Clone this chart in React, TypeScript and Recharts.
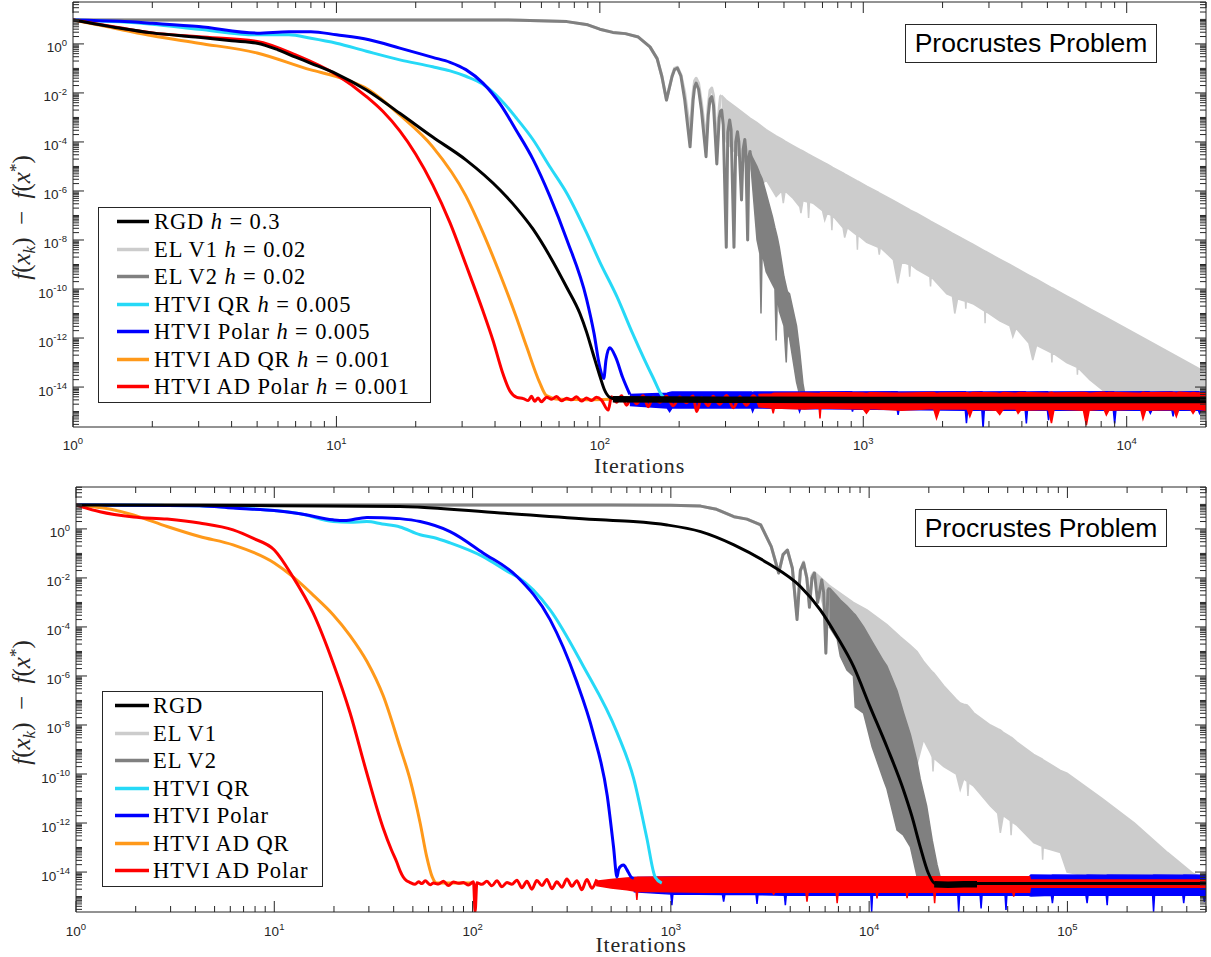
import React from 'react';
import { ComposedChart, Line, Area, XAxis, YAxis, Legend, ReferenceLine } from 'recharts';

const AXIS_COLOR = '#262626';
const SANS = '"Liberation Sans", Arial, Helvetica, sans-serif';
const SERIF = '"Liberation Serif", "Times New Roman", serif';

// ---------- series identity ----------
const SERIES_NAMES = ['RGD', 'EL V1', 'EL V2', 'HTVI QR', 'HTVI Polar', 'HTVI AD QR', 'HTVI AD Polar'];
const SERIES_COLORS = ['#000000', '#cccccc', '#808080', '#26d9f7', '#0000ff', '#ff991a', '#ff0000'];
const STEP_SIZES = ['0.3', '0.02', '0.02', '0.005', '0.005', '0.001', '0.001'];
const TITLE = 'Procrustes Problem';
const X_LABEL = 'Iterations';

// ---------- axis ranges ----------
const Y_LOG_RANGE = [-15.63, 1.71];
const TOP_X_RANGE = [1, 20000];
const BOT_X_RANGE = [1, 500000];
const Y_LABELED_EXPONENTS = [-14, -12, -10, -8, -6, -4, -2, 0];

// =====================================================================
// TOP PANEL  (x = iteration, values given as log10(f(x_k) - f(x*)))
// =====================================================================
const topRgdX = [1, 1.5, 2, 3, 4, 5, 6, 7, 8, 10, 13, 17.4, 23.2, 31, 41.8, 48.3, 55.7, 64.5, 75, 84, 89, 94, 100, 104, 109, 115];
const topRgdLog = [0.98, 0.65, 0.45, 0.27, 0.13, 0.03, -0.24, -0.54, -0.79, -1.22, -1.88, -2.83, -3.8, -4.73, -5.96, -6.7, -7.55, -8.65, -9.95, -11.0, -11.75, -12.6, -13.55, -14.1, -14.42, -14.5];
const topRgdFloorX = [112, 300, 1000, 20000];
const topRgdFloorLog = [-14.5, -14.52, -14.53, -14.53];

const topElV2X = [1, 20, 50, 75, 90, 100, 112, 125, 140, 155, 165, 172, 179, 188, 192, 197, 203, 210, 220, 226, 229, 232, 237, 243, 253, 258, 262, 266, 270, 278, 284, 287, 290, 294, 302, 306, 311, 315, 323, 328, 333, 337, 345, 350, 355, 358, 364, 368, 372];
const topElV2Log = [0.98, 0.98, 0.97, 0.91, 0.78, 0.6, 0.47, 0.42, 0.28, -0.12, -0.6, -1.33, -2.29, -1.33, -1.05, -0.99, -1.3, -2.29, -4.2, -2.29, -1.75, -1.6, -1.85, -2.7, -4.6, -2.9, -2.25, -2.15, -2.5, -4.9, -3.0, -2.75, -2.7, -3.3, -8.3, -3.6, -3.1, -3.5, -8.3, -4.0, -3.58, -4.0, -6.37, -4.3, -3.9, -4.3, -8.0, -4.6, -4.35];
const topElV2BandX = [372, 378, 395, 405, 409, 413, 428, 452, 462, 467, 472, 480, 500, 510, 515, 525, 558, 573, 590, 600];
const topElV2BandHigh = [-4.35, -4.6, -5.0, -5.3, -5.4, -5.5, -6.1, -7.05, -7.5, -7.7, -7.9, -8.3, -9.5, -9.9, -10.1, -10.2, -11.5, -12.5, -13.85, -14.3];
const topElV2BandLow = [-4.35, -5.5, -8.0, -8.55, -11.0, -8.5, -9.3, -9.8, -10.0, -12.1, -10.2, -10.9, -11.5, -13.0, -11.8, -12.0, -13.8, -14.3, -14.3, -14.3];

const topElV1X = [1, 20, 50, 75, 90, 100, 112, 125, 140, 155, 165, 172, 179, 188, 192, 197, 203, 210, 220, 226, 229, 232, 237, 243, 253, 258, 262, 266, 270, 278, 284, 287, 290];
const topElV1Log = [0.98, 0.98, 0.97, 0.91, 0.78, 0.6, 0.47, 0.42, 0.28, -0.12, -0.6, -1.33, -2.29, -1.3, -1.0, -0.95, -1.25, -2.0, -3.6, -2.0, -1.5, -1.4, -1.6, -2.4, -4.0, -2.5, -1.9, -1.8, -2.1, -4.2, -2.6, -2.15, -2.1];
const topElV1BandX = [290, 302, 330, 372, 394, 428, 467, 490, 497, 505, 541, 574, 580, 590, 615, 620, 625, 645, 700, 714, 730, 755, 760, 765, 838, 850, 870, 945, 950, 955, 1030, 1140, 1150, 1160, 1300, 1352, 1400, 1490, 1500, 1510, 1596, 1790, 1800, 1810, 2075, 2180, 2225, 2280, 2440, 2450, 2460, 2606, 2890, 2900, 2910, 3296, 3600, 3697, 3800, 4250, 4400, 4550, 5180, 5200, 5220, 5915, 6480, 6500, 6520, 7240, 8390, 12000, 20000];
const topElV1BandHigh = [-2.1, -2.29, -2.6, -3.03, -3.2, -3.5, -3.75, -3.88, -3.92, -3.97, -4.15, -4.3, -4.33, -4.37, -4.48, -4.5, -4.52, -4.6, -4.8, -4.85, -4.91, -5.0, -5.02, -5.04, -5.26, -5.3, -5.36, -5.58, -5.59, -5.6, -5.8, -6.05, -6.08, -6.1, -6.39, -6.49, -6.58, -6.74, -6.76, -6.78, -6.91, -7.21, -7.23, -7.24, -7.59, -7.72, -7.77, -7.83, -8.0, -8.02, -8.03, -8.17, -8.44, -8.45, -8.46, -8.78, -9.0, -9.07, -9.14, -9.43, -9.52, -9.6, -9.94, -9.95, -9.96, -10.28, -10.51, -10.52, -10.53, -10.8, -11.17, -12.09, -13.4];
const topElV1BandLow = [-2.7, -4.0, -4.5, -5.0, -5.96, -5.55, -6.23, -6.0, -6.5, -6.0, -6.3, -6.64, -6.9, -6.4, -6.45, -7.1, -6.45, -6.5, -6.8, -7.2, -6.9, -7.0, -7.6, -7.0, -7.5, -7.9, -7.5, -7.8, -8.4, -7.8, -8.1, -8.3, -8.6, -8.3, -8.8, -9.77, -8.9, -9.0, -9.5, -9.0, -9.2, -9.5, -9.9, -9.5, -10.2, -10.3, -11.0, -10.4, -10.5, -10.8, -10.5, -10.6, -10.9, -11.4, -10.9, -11.3, -11.5, -11.95, -11.6, -12.2, -12.9, -12.3, -12.6, -13.0, -12.6, -13.0, -13.2, -13.5, -13.2, -13.7, -14.25, -14.3, -14.3];

const topCyanX = [1, 1.5, 2, 3, 5, 6.6, 8, 10, 13, 17.4, 23.2, 27, 31, 36, 41.8, 48, 55.7, 64.5, 75, 89, 100, 116, 133, 159, 174, 185];
const topCyanLog = [0.98, 0.9, 0.8, 0.6, 0.37, 0.37, 0.23, 0.03, -0.3, -0.65, -0.93, -1.1, -1.32, -1.65, -2.25, -3.0, -3.9, -5.0, -6.1, -7.7, -8.9, -10.3, -11.8, -13.6, -14.4, -14.5];

const topBlueX = [1, 1.5, 2, 3, 5, 6.6, 8, 10, 13.3, 17.4, 23.2, 27, 31, 36, 41.8, 48, 55.7, 64.5, 75, 89, 95, 100, 103.5, 105.5, 109, 115, 122, 130];
const topBlueLog = [0.98, 0.92, 0.84, 0.71, 0.44, 0.5, 0.5, 0.37, 0.17, -0.17, -0.55, -0.75, -1.05, -1.6, -2.45, -3.5, -4.7, -6.2, -8.0, -10.4, -11.8, -13.2, -13.65, -12.9, -12.4, -12.8, -13.6, -14.3];
const topBlueBandX = [130, 180, 184, 188, 376, 380, 385, 568, 573, 578, 905, 910, 915, 1345, 1356, 1367, 2440, 2464, 2490, 2820, 2850, 2880, 4120, 4160, 4200, 5000, 5050, 5100, 8900, 9000, 9100, 12150, 12300, 12450, 14850, 15000, 15150, 18700, 18900, 19100, 20000];
const topBlueBandLow = [-14.75, -14.85, -15.0, -14.85, -14.85, -15.0, -14.85, -14.88, -15.0, -14.88, -14.9, -15.0, -14.9, -14.92, -15.14, -14.92, -14.95, -15.47, -14.95, -14.95, -15.69, -14.95, -14.95, -15.48, -14.95, -14.95, -15.35, -14.95, -14.95, -15.48, -14.95, -14.95, -15.07, -14.95, -14.95, -15.2, -14.95, -14.95, -15.07, -14.95, -14.95];
const topBlueBandHigh = [-14.3, -14.25, -14.22, -14.2, -14.2, -14.22, -14.2, -14.2, -14.21, -14.2, -14.19, -14.2, -14.2, -14.19, -14.2, -14.2, -14.19, -14.2, -14.2, -14.19, -14.2, -14.2, -14.19, -14.2, -14.2, -14.19, -14.2, -14.2, -14.19, -14.2, -14.2, -14.19, -14.2, -14.2, -14.19, -14.2, -14.2, -14.19, -14.2, -14.2, -14.2];

const topOrangeX = [1, 1.5, 2, 3, 5, 8, 10, 13.3, 17.4, 23.2, 31, 36, 41.8, 48, 52.7, 59, 62.7, 70, 90, 110];
const topOrangeLog = [0.98, 0.6, 0.33, 0.03, -0.37, -1.06, -1.33, -1.88, -2.9, -4.2, -6.2, -7.7, -9.4, -11.1, -12.35, -13.8, -14.35, -14.5, -14.52, -14.5];

const topRedX = [1, 1.5, 2, 3, 5, 7, 10, 13, 15, 17.4, 20, 23.2, 27, 31, 36, 39.3, 43, 45.5, 48.4,
  51.2, 53.5, 55.0, 56.6, 58.3, 60.0, 62.8, 65.6, 68.5, 71.6, 74.8, 78.1, 81.5, 85.2, 89.0, 93.0, 97.1, 101.4, 107.6, 110.7,
  115.7, 120.9, 126.3, 131.9, 137.8, 146, 152.6, 159.4, 168.9, 179, 190, 201, 213, 226, 233, 243, 258, 269, 285, 303, 321, 340, 360, 382, 405];
const topRedLog = [0.98, 0.66, 0.45, 0.29, 0.1, -0.45, -1.26, -2.15, -2.75, -3.55, -4.5, -5.75, -7.3, -9.0, -10.9, -12.1, -13.5, -14.15, -14.42,
  -14.47, -14.55, -14.38, -14.58, -14.45, -14.6, -14.42, -14.5, -14.39, -14.56, -14.46, -14.52, -14.4, -14.57, -14.45, -14.55, -14.42, -14.53, -14.94, -14.4,
  -14.62, -14.36, -14.74, -14.42, -14.68, -14.36, -14.8, -14.42, -14.62, -14.38, -14.76, -14.41, -14.64, -14.37, -15.0, -14.44, -14.76, -14.38, -14.7, -14.34, -14.84, -14.4, -14.74, -14.36, -14.8];
const topRedBandX = [400, 450, 455, 460, 600, 680, 685, 690, 1000, 1028, 1060, 1400, 1850, 1897, 1950, 2480, 2538, 2600, 3200, 3296, 3400, 3800, 3870, 3950, 5050, 5180, 5300, 6850, 7030, 7200, 8200, 8370, 8550, 11300, 11530, 11800, 15100, 15430, 15800, 17500, 17860, 18300, 20000];
const topRedBandLow = [-14.8, -14.85, -15.07, -14.85, -14.9, -14.85, -15.28, -14.85, -14.9, -15.07, -14.88, -14.95, -14.88, -15.28, -14.9, -14.9, -15.2, -14.9, -14.95, -15.12, -14.9, -14.9, -15.07, -14.95, -14.92, -15.47, -14.9, -14.95, -15.55, -14.95, -14.9, -15.14, -14.95, -14.9, -15.3, -14.95, -14.92, -15.2, -14.9, -14.92, -15.07, -14.9, -14.95];
const topRedBandHigh = [-14.3, -14.28, -14.26, -14.25, -14.24, -14.26, -14.25, -14.22, -14.24, -14.26, -14.23, -14.25, -14.22, -14.26, -14.24, -14.23, -14.25, -14.22, -14.24, -14.26, -14.22, -14.25, -14.23, -14.22, -14.25, -14.21, -14.24, -14.22, -14.23, -14.25, -14.21, -14.24, -14.22, -14.25, -14.21, -14.23, -14.22, -14.25, -14.21, -14.24, -14.22, -14.23, -14.24];

// =====================================================================
// BOTTOM PANEL
// =====================================================================
const botRgdX = [1, 10, 43, 138, 443, 646, 958, 1413, 2080, 3070, 4500, 5670, 6900, 8330, 10100, 12300, 14900, 16400, 18100, 19900, 21300, 23000, 35000, 500000];
const botRgdLog = [0.98, 0.95, 0.91, 0.65, 0.37, 0.3, 0.16, -0.11, -0.65, -1.39, -2.35, -3.3, -4.4, -5.6, -7.25, -8.9, -10.65, -11.7, -12.97, -14.05, -14.45, -14.5, -14.47, -14.47];
const botRgdFloorX = [21300, 25000, 30000, 35000];
const botRgdFloorLog = [-14.5, -14.52, -14.5, -14.5];

const botElV2X = [1, 100, 500, 1000, 1413, 1700, 2080, 2420, 2840, 3210, 3500, 3680, 3870, 4100, 4330, 4500, 4670, 4850, 5000, 5150, 5300, 5500, 5770, 5900, 6050, 6200, 6300];
const botElV2Log = [0.98, 0.98, 0.98, 0.97, 0.93, 0.8, 0.5, 0.4, 0.16, -0.72, -1.8, -1.05, -0.86, -1.6, -3.7, -1.7, -1.39, -2.0, -3.2, -2.0, -1.8, -3.0, -2.08, -2.6, -5.07, -2.5, -2.4];
const botElV2BandX = [6300, 6900, 7160, 7730, 8330, 8510, 9380, 10350, 11840, 12300, 13830, 14900, 16150, 17450, 18100, 19500, 20800, 22000, 22800];
const botElV2BandHigh = [-2.4, -2.75, -2.9, -3.15, -3.43, -3.5, -4.0, -4.6, -5.4, -5.6, -6.6, -7.5, -8.4, -9.5, -10.2, -11.3, -12.7, -13.7, -14.2];
const botElV2BandLow = [-4.0, -4.5, -5.2, -5.76, -6.0, -7.27, -7.52, -8.89, -10.24, -10.6, -12.29, -12.5, -12.97, -14.19, -14.3, -14.3, -14.3, -14.3, -14.3];

const botElV1X = [1, 100, 500, 1000, 1413, 1700, 2080, 2420, 2840, 3210, 3500, 3680, 3870, 4100, 4330, 4500, 4670, 4850, 5000, 5150, 5300];
const botElV1Log = [0.98, 0.98, 0.98, 0.97, 0.93, 0.8, 0.5, 0.4, 0.16, -0.72, -1.8, -1.05, -0.86, -1.6, -3.5, -1.7, -1.35, -2.0, -3.0, -1.9, -1.75];
const botElV1BandX = [5300, 6300, 8330, 9760, 12300, 14370, 16150, 17450, 18800, 20400, 20800, 21000, 21200, 23800, 27500, 28800, 30000, 31200, 31500, 31800, 33700, 40900, 44500, 45900, 47500, 51500, 52000, 52500, 55700, 67600, 74500, 75000, 75500, 92200, 99600, 150000, 218000, 320000, 430000, 500000];
const botElV1BandHigh = [-1.75, -2.3, -3.0, -3.3, -3.9, -4.4, -4.75, -5.0, -5.4, -5.75, -5.82, -5.85, -5.88, -6.4, -6.95, -7.1, -7.15, -7.18, -7.22, -7.25, -7.5, -8.0, -8.15, -8.2, -8.3, -8.48, -8.5, -8.52, -8.7, -9.2, -9.38, -9.4, -9.42, -9.85, -9.97, -11.0, -12.0, -13.2, -14.05, -14.3];
const botElV1BandLow = [-1.9, -4.0, -4.0, -4.5, -6.0, -7.6, -8.6, -9.6, -8.6, -9.15, -9.3, -9.9, -9.35, -9.7, -10.0, -10.65, -10.2, -10.3, -10.9, -10.35, -10.5, -11.3, -11.6, -12.4, -11.7, -11.9, -12.5, -11.95, -12.1, -12.8, -12.95, -13.5, -13.0, -13.2, -14.0, -14.3, -14.3, -14.3, -14.3, -14.3];

const botCyanX = [1, 2, 4.2, 6.2, 10, 13.5, 19.8, 24, 29.3, 35, 43, 54.4, 63.5, 77, 113, 155, 168, 246, 362, 535, 650, 756, 833, 900];
const botCyanLog = [0.98, 0.97, 0.95, 0.87, 0.75, 0.62, 0.3, 0.27, 0.3, 0.2, 0.08, -0.24, -0.35, -0.57, -1.13, -1.8, -1.95, -3.3, -5.6, -8.3, -10.2, -12.6, -14.2, -14.45];

const botBlueX = [1, 2, 4.2, 6.2, 10, 13.5, 19.8, 22.5, 29.3, 35, 43, 54.4, 77, 113, 168, 246, 334, 405, 478, 514, 535, 545, 560, 578, 600, 630, 650];
const botBlueLog = [0.98, 0.97, 0.95, 0.85, 0.75, 0.62, 0.37, 0.34, 0.47, 0.46, 0.42, 0.3, -0.11, -0.98, -1.95, -3.7, -6.2, -8.3, -10.9, -12.98, -14.2, -13.9, -13.75, -13.71, -13.9, -14.2, -14.26];
const botBlueBandX = [650, 1000, 1012, 1024, 1820, 1846, 1872, 2690, 2720, 2750, 3740, 3780, 3820, 10200, 10300, 10400, 28000, 28300, 28600, 36300, 36700, 37100, 48500, 49000, 49500, 64000, 65500, 83000, 84000, 85000, 124000, 125700, 127000, 157000, 158700, 160000, 269000, 272000, 275000, 382000, 386000, 390000, 485000, 490000, 500000];
const botBlueBandLow = [-14.8, -14.9, -15.35, -14.9, -14.92, -15.21, -14.92, -14.92, -15.3, -14.92, -14.95, -15.35, -14.95, -14.95, -15.62, -14.95, -14.95, -15.62, -14.95, -14.95, -15.48, -14.95, -14.95, -15.55, -14.95, -14.95, -14.98, -14.95, -15.27, -14.95, -14.95, -15.27, -14.95, -14.95, -15.35, -14.95, -14.95, -15.62, -14.95, -14.95, -15.27, -14.95, -14.95, -15.21, -14.95];
const botBlueBandHigh = [-14.22, -14.2, -14.2, -14.2, -14.21, -14.2, -14.2, -14.21, -14.2, -14.2, -14.21, -14.2, -14.2, -14.21, -14.2, -14.2, -14.21, -14.2, -14.2, -14.21, -14.2, -14.2, -14.21, -14.2, -14.2, -14.2, -14.12, -14.13, -14.12, -14.12, -14.13, -14.12, -14.12, -14.13, -14.12, -14.12, -14.13, -14.12, -14.12, -14.13, -14.12, -14.12, -14.13, -14.12, -14.12];

const botOrangeX = [1, 1.5, 1.95, 2.88, 4.2, 6.2, 10, 12.4, 15.7, 19.8, 24.1, 29.3, 35.4, 43, 48.3, 54.4, 58.7, 62.6, 66, 80, 100];
const botOrangeLog = [0.98, 0.8, 0.57, 0.1, -0.31, -0.65, -1.39, -1.95, -2.7, -3.5, -4.35, -5.4, -6.8, -8.89, -10.2, -12.0, -13.37, -14.2, -14.45, -14.45, -14.45];

const botRedX = [1, 1.32, 1.95, 2.88, 4.2, 6.2, 7.8, 10, 12.4, 15.7, 19.8, 24.1, 29.3, 35.4, 39, 41.5, 43.1, 44.7, 46.4, 48.2,
  51.3, 53.4, 55.5, 57.7, 61.1, 63.5, 67.3, 71.3, 75.6, 80.1, 84.9, 89.9, 95.3, 101.1, 103.0, 105.1, 111.4, 118.1, 125.1, 132.7,
  140.6, 149.0, 157.8, 167.3, 177.3, 187.9, 199.1, 211, 223.7, 237.0, 251.2, 266.2, 282.1, 299.0, 316.8, 335.7, 355.7, 377.0, 399.5, 423.4];
const botRedLog = [0.98, 0.7, 0.49, 0.4, 0.24, -0.04, -0.38, -0.86, -1.95, -3.43, -5.47, -7.5, -9.97, -12.2, -13.1, -13.6, -13.95, -14.2, -14.35, -14.42,
  -14.5, -14.4, -14.47, -14.36, -14.52, -14.45, -14.49, -14.38, -14.55, -14.41, -14.46, -14.43, -14.53, -14.4, -15.62, -14.44, -14.5, -14.38, -14.56, -14.35,
  -14.6, -14.43, -14.5, -14.33, -14.64, -14.38, -14.7, -14.34, -14.55, -14.3, -14.68, -14.4, -14.62, -14.28, -14.58, -14.35, -14.72, -14.3, -14.66, -14.3];
const botRedBandX = [420, 500, 600, 668, 674, 680, 1000, 1500, 3250, 3300, 3350, 4800, 4860, 4920, 6820, 6900, 6980, 10850, 10960, 11070, 15400, 15540, 15680, 21200, 21400, 21600, 53000, 53600, 54200, 64500, 65000, 65500, 500000];
const botRedBandLow = [-14.55, -14.65, -14.72, -14.78, -15.14, -14.78, -14.8, -14.82, -14.82, -14.9, -14.82, -14.82, -15.21, -14.82, -14.82, -15.27, -14.82, -14.82, -15.07, -14.82, -14.82, -15.07, -14.82, -14.82, -15.27, -14.82, -14.82, -15.0, -14.82, -14.82, -14.62, -14.62, -14.62];
const botRedBandHigh = [-14.38, -14.3, -14.24, -14.22, -14.22, -14.21, -14.2, -14.19, -14.19, -14.19, -14.19, -14.19, -14.19, -14.19, -14.19, -14.19, -14.19, -14.19, -14.19, -14.19, -14.19, -14.19, -14.19, -14.19, -14.19, -14.19, -14.19, -14.19, -14.19, -14.19, -14.32, -14.32, -14.32];

// ---------- helpers ----------
const pts = (xs: number[], logs: number[]) => xs.map((x, i) => ({ x, v: Math.pow(10, logs[i]) }));
const band = (xs: number[], lo: number[], hi: number[]) =>
  xs.map((x, i) => ({ x, v: [Math.pow(10, lo[i]), Math.pow(10, hi[i])] }));

function logTicks(lo: number, hi: number) {
  const out: number[] = [];
  for (let n = Math.floor(Math.log10(lo)) - 1; n <= Math.ceil(Math.log10(hi)); n++) {
    for (let k = 1; k <= 9; k++) {
      const v = k * Math.pow(10, n);
      if (v >= lo * 0.99999 && v <= hi * 1.00001) out.push(v);
    }
  }
  return out;
}
const decadeOf = (v: number) => {
  const lg = Math.log10(v);
  const e = Math.round(lg);
  return Math.abs(lg - e) < 1e-6 ? e : null;
};

const Y_DOMAIN: [number, number] = [Math.pow(10, Y_LOG_RANGE[0]), Math.pow(10, Y_LOG_RANGE[1])];
const Y_TICKS = logTicks(Y_DOMAIN[0], Y_DOMAIN[1]);

// ---------- ticks ----------
const XTick = (props: any) => {
  const { x, y, payload, plotH, labelDy } = props;
  const e = decadeOf(payload.value);
  const len = e !== null ? 11 : 6;
  return (
    <g>
      <line x1={x} x2={x} y1={y} y2={y - len} stroke={AXIS_COLOR} strokeWidth={1} />
      <line x1={x} x2={x} y1={y - plotH} y2={y - plotH + len} stroke={AXIS_COLOR} strokeWidth={1} />
      {e !== null && (
        <text x={x} y={y + labelDy} textAnchor="middle" fontFamily={SANS} fontSize={13.5} fill={AXIS_COLOR}>
          10<tspan dy={-6.5} fontSize={9.5}>{String(e)}</tspan>
        </text>
      )}
    </g>
  );
};

const YTick = (props: any) => {
  const { x, y, payload, plotW } = props;
  const e = decadeOf(payload.value);
  const labeled = e !== null && Y_LABELED_EXPONENTS.includes(e);
  const len = labeled ? 11 : 6;
  return (
    <g>
      <line x1={x} x2={x + len} y1={y} y2={y} stroke={AXIS_COLOR} strokeWidth={1} />
      <line x1={x + plotW} x2={x + plotW - len} y1={y} y2={y} stroke={AXIS_COLOR} strokeWidth={1} />
      {labeled && (
        <text x={x - 6} y={y + 8.5} textAnchor="end" fontFamily={SANS} fontSize={13.5} fill={AXIS_COLOR}>
          10<tspan dy={-6.5} fontSize={9.5}>{String(e)}</tspan>
        </text>
      )}
    </g>
  );
};

const XLabel = (props: any) => {
  const { viewBox, dy } = props;
  return (
    <text x={viewBox.x + viewBox.width / 2} y={viewBox.y + dy} textAnchor="middle" fontFamily={SERIF} fontSize={22}
      letterSpacing={0.8} fill={AXIS_COLOR}>
      {X_LABEL}
    </text>
  );
};

const YLabel = (props: any) => {
  const { viewBox } = props;
  const cx = 30;
  const cy = viewBox.y + viewBox.height / 2 + 3;
  return (
    <text transform={`translate(${cx},${cy}) rotate(-90)`} textAnchor="middle" fontFamily={SERIF} fontSize={25} fill={AXIS_COLOR}>
      <tspan fontStyle="italic">f</tspan>
      <tspan>(</tspan>
      <tspan fontStyle="italic">x</tspan>
      <tspan fontStyle="italic" fontSize={17} dy={5}>k</tspan>
      <tspan dy={-5}>)</tspan>
      <tspan>{'\u2002\u2212\u2002'}</tspan>
      <tspan fontStyle="italic">f</tspan>
      <tspan>(</tspan>
      <tspan fontStyle="italic">x</tspan>
      <tspan fontSize={17} dy={-9}>*</tspan>
      <tspan dy={9}>)</tspan>
    </text>
  );
};

// ---------- legend ----------
const makeLegend = (withStep: boolean, width: number, lineX0: number, lineX1: number, textX: number) => () => (
  <div style={{ position: 'relative', width, height: 196, border: `1px solid ${AXIS_COLOR}`, background: '#fff', boxSizing: 'border-box' }}>
    {SERIES_NAMES.map((name, i) => (
      <div key={name} style={{ position: 'absolute', left: 0, top: i * 27.5, width: '100%', height: 27.5 }}>
        <svg width={lineX1 - lineX0} height={27.5} style={{ position: 'absolute', left: lineX0, top: 0 }}>
          <line x1={0} x2={lineX1 - lineX0} y1={13.5} y2={13.5} stroke={SERIES_COLORS[i]} strokeWidth={3.5} />
        </svg>
        <span style={{ position: 'absolute', left: textX, top: 0, lineHeight: '27.5px', fontFamily: SERIF, fontSize: 22.5,
          letterSpacing: 0.9, color: '#000', whiteSpace: 'nowrap' }}>
          {name}
          {withStep && (
            <>
              {' '}
              <i>h</i>
              {' = '}
              {STEP_SIZES[i]}
            </>
          )}
        </span>
      </div>
    ))}
  </div>
);

const TitleBox = ({ left, top, width, height }: any) => (
  <div style={{ position: 'absolute', left, top, width, height, border: `1px solid ${AXIS_COLOR}`, background: '#fff', boxSizing: 'border-box',
    display: 'flex', alignItems: 'center', justifyContent: 'center', fontFamily: SANS, fontSize: 26.5, color: '#000' }}>
    {TITLE}
  </div>
);

const smooth = { dot: false, activeDot: false, isAnimationActive: false, type: 'monotoneX' as const, strokeLinejoin: 'round' as const, legendType: 'none' as const };
const sharp = { dot: false, activeDot: false, isAnimationActive: false, type: 'linear' as const, strokeLinejoin: 'round' as const, legendType: 'none' as const };
const areaProps = { isAnimationActive: false, type: 'linear' as const, fillOpacity: 1, activeDot: false, legendType: 'none' as const };

function Panel(props: any) {
  const { height, marginTop, yAxisWidth, xAxisHeight, xRange, plotW, labelDy, xLabelDy, legend, legendPos, d } = props;
  const xTicks = logTicks(xRange[0], xRange[1]);
  return (
    <ComposedChart width={1211} height={height} margin={{ top: marginTop, right: 5, bottom: 0, left: 0 }}>
      <XAxis dataKey="x" type="number" scale="log" domain={xRange} allowDataOverflow ticks={xTicks} interval={0}
        tickSize={0} tickMargin={0} tickLine={false} axisLine={{ stroke: AXIS_COLOR }} height={xAxisHeight}
        tick={<XTick plotH={425} labelDy={labelDy} />} label={<XLabel dy={xLabelDy} />} />
      <YAxis type="number" scale="log" domain={Y_DOMAIN} allowDataOverflow ticks={Y_TICKS} interval={0}
        tickSize={0} tickMargin={0} tickLine={false} axisLine={{ stroke: AXIS_COLOR }} width={yAxisWidth}
        tick={<YTick plotW={plotW} />} label={<YLabel />} />
      <ReferenceLine y={Y_DOMAIN[1]} stroke={AXIS_COLOR} strokeWidth={1} />
      <ReferenceLine x={xRange[1]} stroke={AXIS_COLOR} strokeWidth={1} />

      <Area {...areaProps} data={d.v1Band} dataKey="v" fill={SERIES_COLORS[1]} stroke={SERIES_COLORS[1]} strokeWidth={1.5} />
      <Area {...areaProps} data={d.v2Band} dataKey="v" fill={SERIES_COLORS[2]} stroke={SERIES_COLORS[2]} strokeWidth={1.5} />
      <Area {...areaProps} data={d.blueBand} dataKey="v" fill={SERIES_COLORS[4]} stroke={SERIES_COLORS[4]} strokeWidth={1.5} />
      <Area {...areaProps} data={d.redBand} dataKey="v" fill={SERIES_COLORS[6]} stroke={SERIES_COLORS[6]} strokeWidth={1.5} />

      <Line {...sharp} data={d.v1} dataKey="v" stroke={SERIES_COLORS[1]} strokeWidth={3} />
      <Line {...sharp} data={d.v2} dataKey="v" stroke={SERIES_COLORS[2]} strokeWidth={3} />
      <Line {...smooth} data={d.cyan} dataKey="v" stroke={SERIES_COLORS[3]} strokeWidth={3} />
      <Line {...smooth} data={d.blue} dataKey="v" stroke={SERIES_COLORS[4]} strokeWidth={3} />
      <Line {...smooth} data={d.orange} dataKey="v" stroke={SERIES_COLORS[5]} strokeWidth={3} />
      <Line {...smooth} data={d.red} dataKey="v" stroke={SERIES_COLORS[6]} strokeWidth={3} />
      <Line {...smooth} data={d.rgd} dataKey="v" stroke={SERIES_COLORS[0]} strokeWidth={3} />
      <Line {...sharp} data={d.rgdFloor} dataKey="v" stroke={SERIES_COLORS[0]} strokeWidth={6.5} />

      <Legend content={legend} layout="vertical" align="center" verticalAlign="middle"
        wrapperStyle={{ left: legendPos.left, top: legendPos.top, width: 'auto', height: 'auto' }} />
    </ComposedChart>
  );
}

const topData = {
  rgd: pts(topRgdX, topRgdLog),
  rgdFloor: pts(topRgdFloorX, topRgdFloorLog),
  v1: pts(topElV1X, topElV1Log),
  v1Band: band(topElV1BandX, topElV1BandLow, topElV1BandHigh),
  v2: pts(topElV2X, topElV2Log),
  v2Band: band(topElV2BandX, topElV2BandLow, topElV2BandHigh),
  cyan: pts(topCyanX, topCyanLog),
  blue: pts(topBlueX, topBlueLog),
  blueBand: band(topBlueBandX, topBlueBandLow, topBlueBandHigh),
  orange: pts(topOrangeX, topOrangeLog),
  red: pts(topRedX, topRedLog),
  redBand: band(topRedBandX, topRedBandLow, topRedBandHigh),
};

const botData = {
  rgd: pts(botRgdX, botRgdLog),
  rgdFloor: pts(botRgdFloorX, botRgdFloorLog),
  v1: pts(botElV1X, botElV1Log),
  v1Band: band(botElV1BandX, botElV1BandLow, botElV1BandHigh),
  v2: pts(botElV2X, botElV2Log),
  v2Band: band(botElV2BandX, botElV2BandLow, botElV2BandHigh),
  cyan: pts(botCyanX, botCyanLog),
  blue: pts(botBlueX, botBlueLog),
  blueBand: band(botBlueBandX, botBlueBandLow, botBlueBandHigh),
  orange: pts(botOrangeX, botOrangeLog),
  red: pts(botRedX, botRedLog),
  redBand: band(botRedBandX, botRedBandLow, botRedBandHigh),
};

export default function App() {
  return (
    <div style={{ position: 'absolute', left: 0, top: 0, width: 1211, height: 957, background: '#fff', overflow: 'hidden' }}>
      <div style={{ position: 'absolute', left: 0, top: 0 }}>
        <Panel height={477} marginTop={2} yAxisWidth={73} xAxisHeight={50} xRange={TOP_X_RANGE} plotW={1133}
          labelDy={23} xLabelDy={46} legend={makeLegend(true, 333, 18, 50, 55)} legendPos={{ left: 98, top: 207 }} d={topData} />
      </div>
      <div style={{ position: 'absolute', left: 0, top: 477 }}>
        <Panel height={480} marginTop={10} yAxisWidth={76} xAxisHeight={45} xRange={BOT_X_RANGE} plotW={1130}
          labelDy={24} xLabelDy={40} legend={makeLegend(false, 221, 12, 46, 50)} legendPos={{ left: 102, top: 214 }} d={botData} />
      </div>
      <TitleBox left={905} top={24} width={252} height={39} />
      <TitleBox left={915} top={509} width={252} height={38} />
    </div>
  );
}
